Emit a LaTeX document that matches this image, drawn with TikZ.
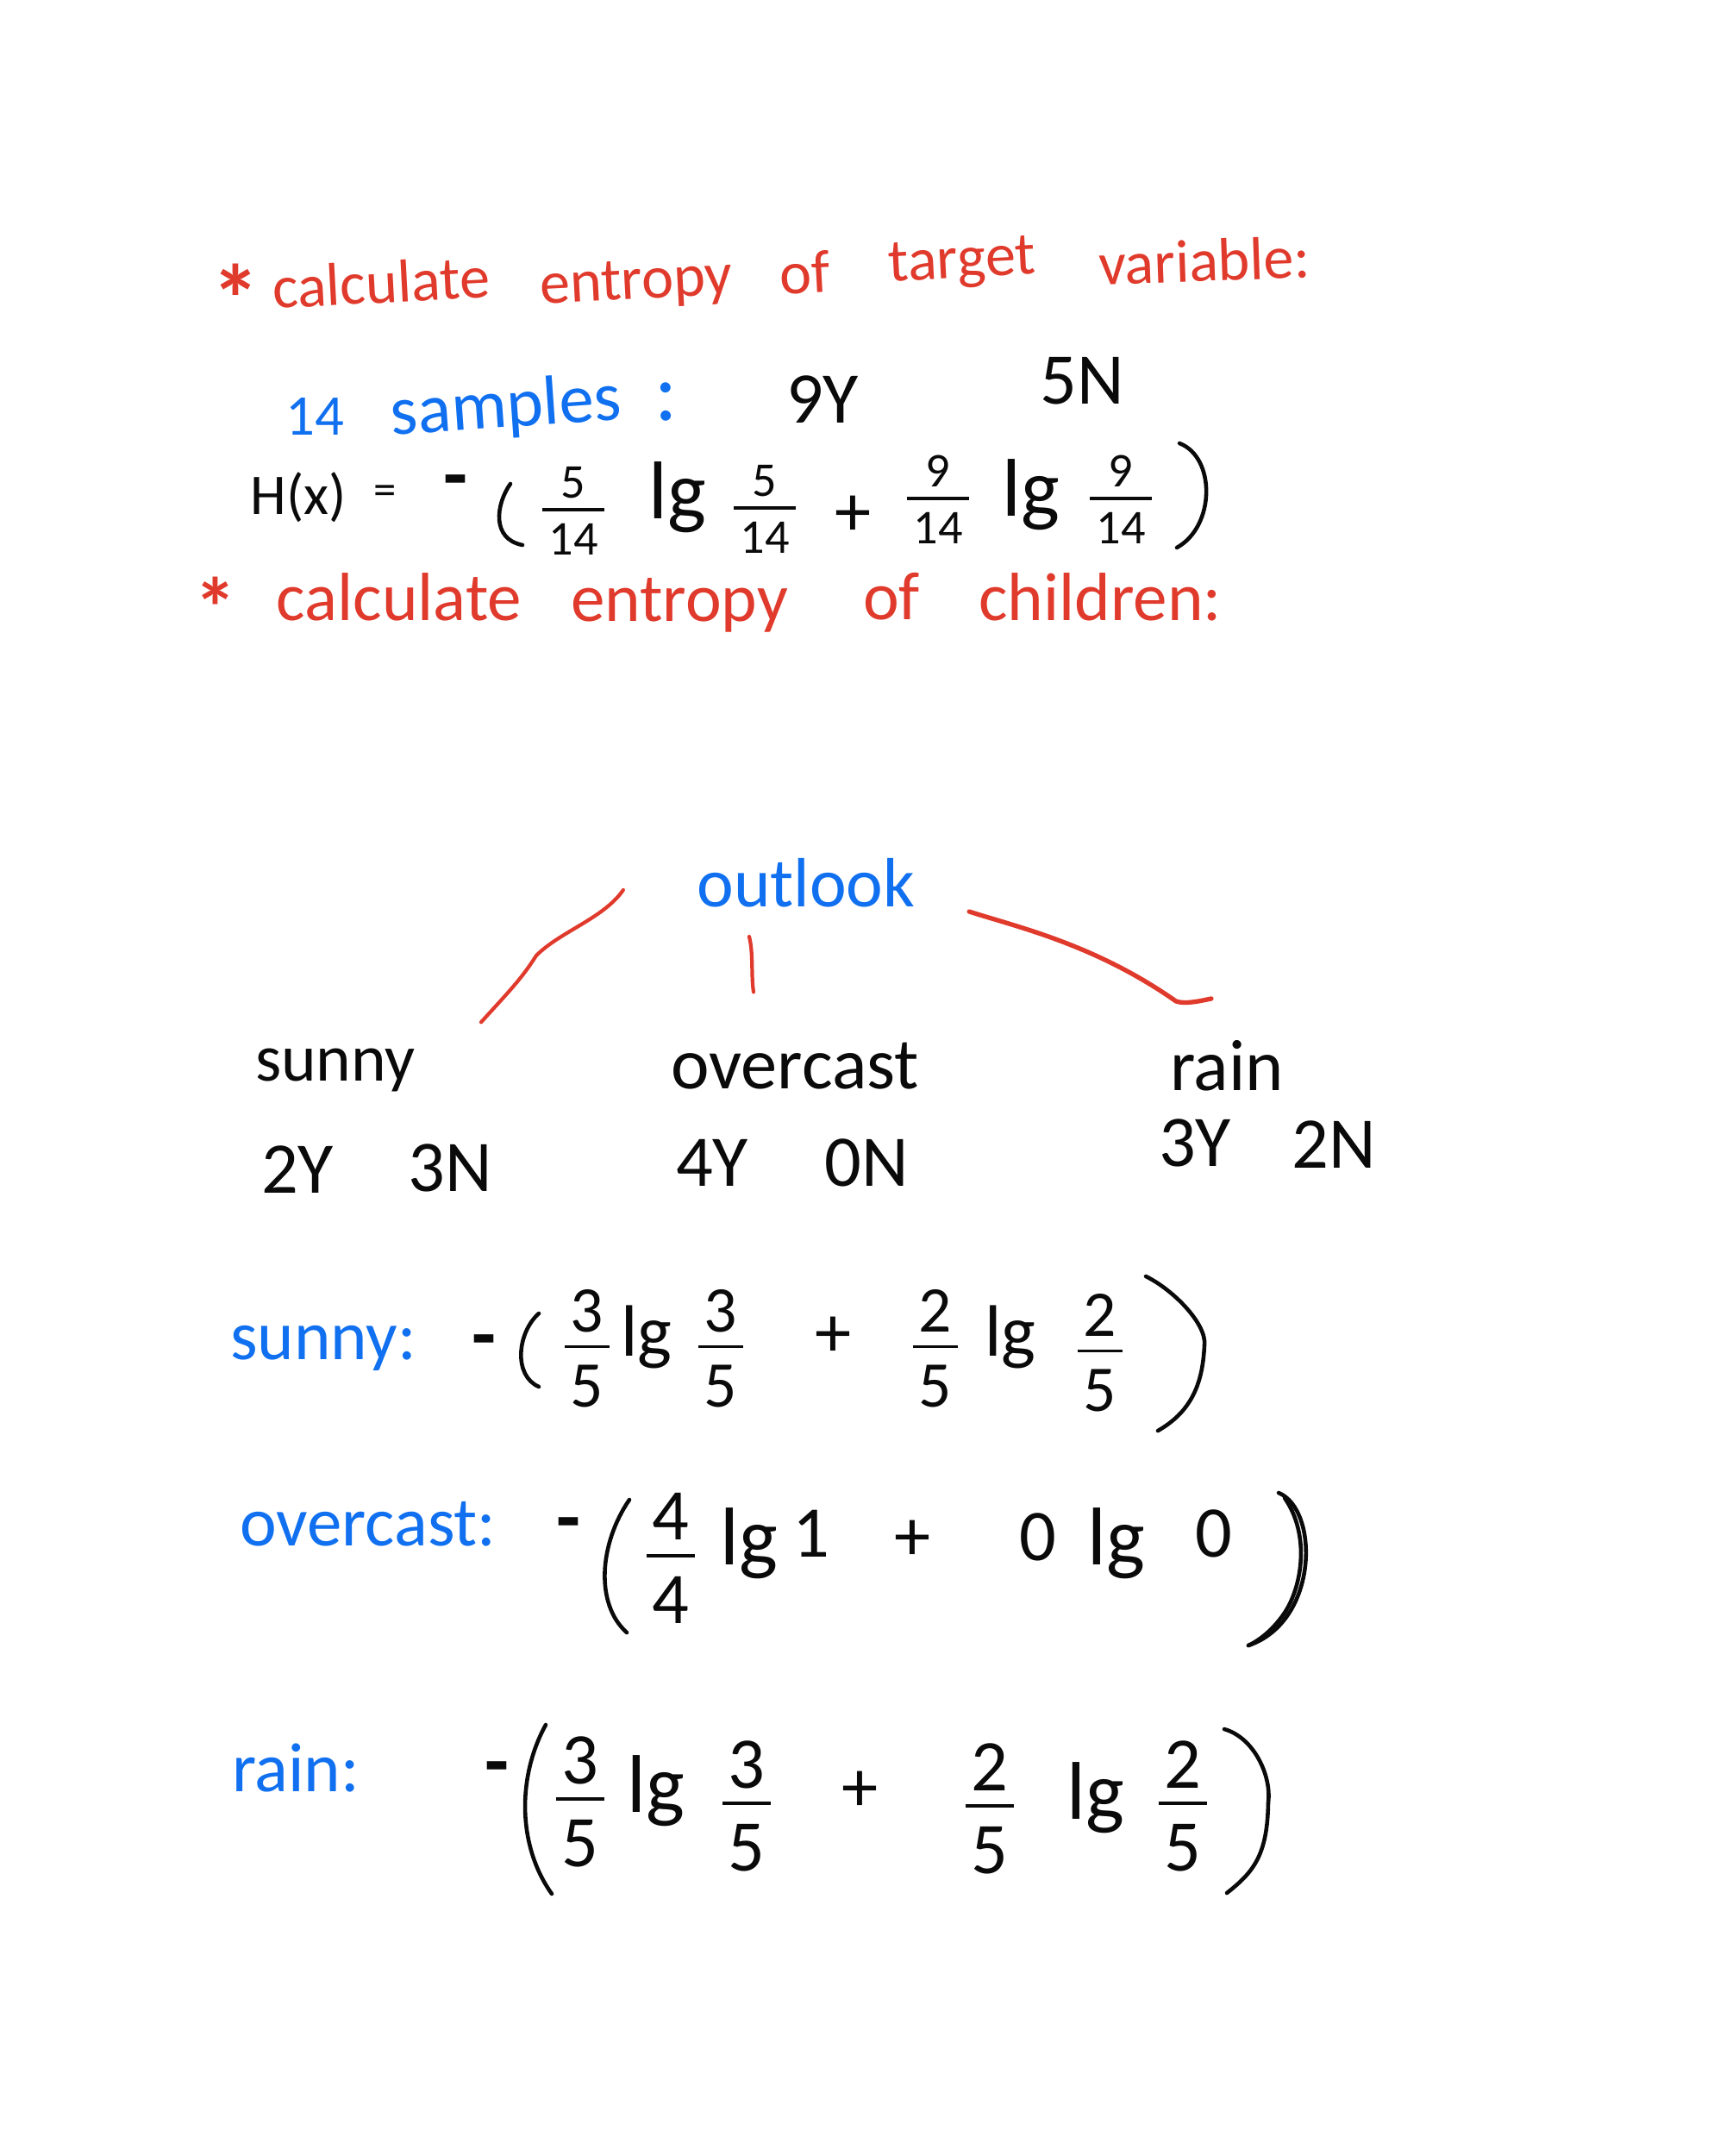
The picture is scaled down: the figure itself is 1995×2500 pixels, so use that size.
\documentclass[tikz,border=0pt]{standalone}
\usepackage{fontspec}
\setmainfont{Carlito}
\definecolor{notered}{RGB}{224, 58, 44}
\definecolor{noteblue}{RGB}{16, 112, 240}
\definecolor{noteink}{RGB}{10, 10, 10}
\setlength{\arrayrulewidth}{1.1pt}
\renewcommand{\arraystretch}{0.6}
\newcommand{\hfrac}[2]{\begin{tabular}{@{\hspace{2pt}}c@{\hspace{2pt}}}#1\\\hline\rule{0pt}{0.9em}#2\end{tabular}}
\usetikzlibrary{positioning}
\tikzset{
  redline/.style={font=\fontsize{20}{22}\selectfont, text=notered, inner sep=0pt},
  redbig/.style={font=\fontsize{22.5}{24}\selectfont, text=notered, inner sep=0pt},
  redstar/.style={font=\fontsize{32}{32}\selectfont\bfseries, text=notered, inner sep=0pt},
  blueline/.style={font=\fontsize{23}{25}\selectfont, text=noteblue, inner sep=0pt},
  inkline/.style={font=\fontsize{24}{26}\selectfont, text=noteink, inner sep=0pt},
  inkminus/.style={font=\fontsize{26}{28}\selectfont\bfseries, text=noteink, inner sep=0pt},
  inksmall/.style={font=\fontsize{16}{18}\selectfont, text=noteink, inner sep=0pt},
  inkmid/.style={font=\fontsize{21.5}{24}\selectfont, text=noteink, inner sep=0pt},
  inkbig/.style={font=\fontsize{24}{26}\selectfont, text=noteink, inner sep=0pt},
  inklg/.style={font=\fontsize{27}{29}\selectfont, text=noteink, inner sep=0pt},
  bracket/.style={draw=noteink, line width=1.3pt, line cap=round},
  branch/.style={draw=notered, line width=1.2pt, line cap=round},
}

\begin{document}
\begin{tikzpicture}[x=0.01cm, y=-0.01cm]
  \useasboundingbox (0,0) rectangle (1995,2500);

  % Target variable
  \node[redstar] (star1) at (274,346) {*};
  \node[redline, rotate=3] (calc1) at (442,327) {calculate};
  \node[redline, rotate=3] (entropy1) at (738,330) {entropy};
  \node[redline, rotate=3] (of1) at (933,316) {of};
  \node[redline, rotate=3] (target1) at (1116,306) {target};
  \node[redline, rotate=2] (variable1) at (1397,302) {variable:};

  % Sample counts
  \node[blueline, font=\fontsize{19}{21}\selectfont] (fourteen) at (365,483) {14};
  \node[blueline, rotate=4] (samples) at (587,474) {samples};
  \node[blueline, font=\fontsize{28}{30}\selectfont] (samplecolon) at (773,466) {:};
  \node[inkline] (nineY) at (954,463) {9Y};
  \node[inkline] (fiveN) at (1255,442) {5N};

  % H(x)
  \node[inkline, font=\fontsize{19}{21}\selectfont] (hx) at (346,577) {H(x)};
  \node[inkline, font=\fontsize{15}{18}\selectfont] (hxeq) at (447,574) {=};
  \node[inkminus] (hxminus) at (528,566) {-};
  \node[inksmall] (hfrac1) at (665,598) {\hfrac{5}{14}};
  \node[inklg] (hlg1) at (786,577) {lg};
  \node[inksmall] (hfrac2) at (887,596) {\hfrac{5}{14}};
  \node[inkline] (hplus) at (990,598) {+};
  \node[inksmall] (hfrac3) at (1088,585) {\hfrac{9}{14}};
  \node[inklg] (hlg2) at (1196,574) {lg};
  \node[inksmall] (hfrac4) at (1300,585) {\hfrac{9}{14}};
  \draw[bracket] (592,561) .. controls (575,585) and (570,625) .. (606,632);
  \draw[bracket] (1368,514) .. controls (1410,530) and (1410,610) .. (1365,635);

  % Children
  \node[redstar, font=\fontsize{28}{28}\selectfont\bfseries] (star2) at (250,704) {*};
  \node[redbig] (calc2) at (463,692) {calculate};
  \node[redbig] (entropy2) at (788,702) {entropy};
  \node[redbig] (of2) at (1034,692) {of};
  \node[redbig] (children) at (1276,692) {children:};

  % Tree
  \node[blueline] (outlook) at (935,1024) {outlook};
  \node[inkline, font=\fontsize{22}{24}\selectfont] (sunny) at (389,1241) {sunny};
  \node[inkline] (overcast) at (922,1236) {overcast};
  \node[inkline] (rain) at (1423,1236) {rain};
  \coordinate (sunnybend) at (622,1108);
  \coordinate (rainbend) at (1364,1161);
  \draw[branch] ([shift={(-85,8)}]outlook.west) .. controls (700,1065) and (650,1080) .. (sunnybend) .. controls (605,1135) and (590,1150) .. ([shift={(169,-30)}]sunny.north);
  \draw[branch] ([shift={(-66,33)}]outlook.south) .. controls +(5,20) and +(-3,-20) .. ([shift={(-48,-58)}]overcast.north);
  \draw[branch, line width=1.5pt] ([shift={(62,33)}]outlook.east) .. controls (1180,1075) and (1270,1095) .. (rainbend) .. controls (1375,1165) and (1395,1160) .. ([shift={(-18,-48)}]rain.north);
  \node[inkline] (sunnyY) at (345,1356) {2Y};
  \node[inkline] (sunnyN) at (522,1354) {3N};
  \node[inkline] (overcastY) at (826,1348) {4Y};
  \node[inkline] (overcastN) at (1005,1348) {0N};
  \node[inkline] (rainY) at (1386,1325) {3Y};
  \node[inkline] (rainN) at (1547,1327) {2N};

  % Sunny
  \node[blueline] (sunnylabel) at (375,1563) {sunny:};
  \node[inkminus] (sunnyminus) at (561,1563) {-};
  \node[inkmid] (sunnyfrac1) at (681,1571) {\hfrac{3}{5}};
  \node[inkbig] (sunnylg1) at (750,1550) {lg};
  \node[inkmid] (sunnyfrac2) at (836,1571) {\hfrac{3}{5}};
  \node[inkline] (sunnyplus) at (967,1550) {+};
  \node[inkmid] (sunnyfrac3) at (1085,1571) {\hfrac{2}{5}};
  \node[inkbig] (sunnylg2) at (1172,1550) {lg};
  \node[inkmid] (sunnyfrac4) at (1276,1576) {\hfrac{2}{5}};
  \draw[bracket] (625,1523) .. controls (600,1545) and (595,1595) .. (625,1608);
  \draw[bracket] (1329,1480) .. controls (1360,1495) and (1400,1535) .. (1397,1560) .. controls (1395,1600) and (1385,1635) .. (1343,1659);

  % Overcast
  \node[blueline] (overcastlabel) at (427,1767) {overcast:};
  \node[inkminus] (overcastminus) at (659,1775) {-};
  \node[inkbig] (overcastfrac) at (778,1815) {\hfrac{4}{4}};
  \node[inklg] (overcastlg1) at (869,1790) {lg};
  \node[inkbig] (overcastone) at (941,1778) {1};
  \node[inkline] (overcastplus) at (1059,1786) {+};
  \node[inkbig] (overcastzero1) at (1204,1782) {0};
  \node[inklg] (overcastlg2) at (1295,1790) {lg};
  \node[inkbig] (overcastzero2) at (1408,1778) {0};
  \draw[bracket] (730,1739) .. controls (695,1790) and (690,1860) .. (727,1893);
  \draw[bracket] (1483,1731) .. controls (1530,1750) and (1530,1880) .. (1448,1908);
  \draw[bracket] (1490,1737) .. controls (1520,1780) and (1510,1840) .. (1490,1870) .. controls (1480,1885) and (1465,1900) .. (1448,1908);

  % Rain
  \node[blueline] (rainlabel) at (343,2050) {rain:};
  \node[inkminus] (rainminus) at (576,2058) {-};
  \node[inkbig] (rainfrac1) at (673,2097) {\hfrac{3}{5}};
  \node[inklg] (rainlg1) at (761,2077) {lg};
  \node[inkbig] (rainfrac2) at (866,2102) {\hfrac{3}{5}};
  \node[inkline] (rainplus) at (998,2077) {+};
  \node[inkbig] (rainfrac3) at (1148,2105) {\hfrac{2}{5}};
  \node[inklg] (rainlg2) at (1271,2085) {lg};
  \node[inkbig] (rainfrac4) at (1372,2102) {\hfrac{2}{5}};
  \draw[bracket] (633,2000) .. controls (600,2060) and (600,2140) .. (640,2196);
  \draw[bracket] (1420,2005) .. controls (1455,2015) and (1475,2060) .. (1471,2090) .. controls (1470,2150) and (1455,2170) .. (1423,2195);
\end{tikzpicture}
\end{document}
